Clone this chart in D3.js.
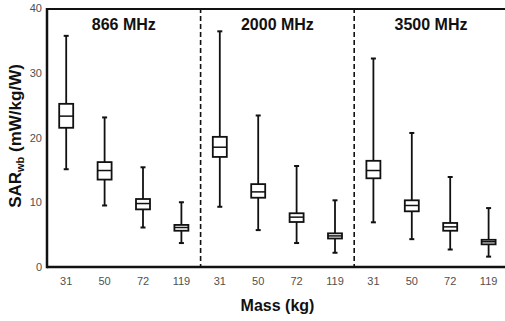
<!DOCTYPE html>
<html>
<head>
<meta charset="utf-8">
<script src="https://cdn.jsdelivr.net/npm/d3@7"></script>
<style>
  html, body { margin: 0; padding: 0; background: #fff; }
  svg { display: block; font-family: "Liberation Sans", Arial, sans-serif; }
</style>
</head>
<body>
<svg id="chart" width="505" height="321"></svg>
<script>
// ---- data ----
const frequencies = ["866 MHz", "2000 MHz", "3500 MHz"];
const masses = ["31", "50", "72", "119"];
// per box, ordered 866 (31,50,72,119), 2000 (...), 3500 (...)
const whiskerHigh = [35.7, 23.1, 15.4, 10.0,  36.4, 23.4, 15.6, 10.3,  32.2, 20.7, 13.9, 9.1];
const q3          = [25.2, 16.2, 10.5, 6.5,   20.1, 12.8, 8.3, 5.2,    16.4, 10.3, 6.8, 4.2];
const medians     = [23.3, 14.9, 9.8, 6.1,    18.5, 11.6, 7.7, 4.8,    14.9, 9.5, 6.2, 3.9];
const q1          = [21.5, 13.5, 8.9, 5.6,    17.0, 10.7, 6.95, 4.4,   13.7, 8.6, 5.6, 3.5];
const whiskerLow  = [15.1, 9.5, 6.1, 3.7,     9.3, 5.7, 3.7, 2.2,      6.9, 4.3, 2.7, 1.6];
const yTicks = [0, 10, 20, 30, 40];

// ---- layout ----
const svg = d3.select("#chart");
const plotLeft = 47, plotRight = 507.8, plotTop = 8, plotBottom = 267;

const keys = [];
frequencies.forEach(f => masses.forEach(m => keys.push({ key: f + "|" + m, freq: f, mass: m, i: keys.length })));

const x = d3.scaleBand().domain(keys.map(k => k.key)).range([plotLeft, plotRight]).padding(0);
const y = d3.scaleLinear().domain([0, 40]).range([plotBottom, plotTop]);
const bw = x.bandwidth();
const cx = k => x(k) + bw / 2;

// panel separators (dashed)
frequencies.slice(1).forEach(f => {
  const xv = x(f + "|" + masses[0]);
  svg.append("line")
    .attr("x1", xv).attr("x2", xv)
    .attr("y1", y(40)).attr("y2", y(0))
    .attr("stroke", "#111").attr("stroke-width", 1.6)
    .attr("stroke-dasharray", "5,3");
});

// panel titles
frequencies.forEach(f => {
  const x0 = x(f + "|" + masses[0]);
  const x1 = x(f + "|" + masses[masses.length - 1]) + bw;
  svg.append("text")
    .attr("x", (x0 + x1) / 2).attr("y", 29.5)
    .attr("text-anchor", "middle")
    .attr("font-size", 16).attr("font-weight", "bold")
    .attr("fill", "#111")
    .text(f);
});

// boxes
const g = svg.append("g");
keys.forEach(k => {
  const c = cx(k.key);
  const i = k.i;
  const boxW = 16, capW = 5;
  const gg = g.append("g").attr("stroke", "#111").attr("stroke-width", 1.8).attr("fill", "none");
  gg.append("line").attr("x1", c).attr("x2", c).attr("y1", y(whiskerHigh[i])).attr("y2", y(q3[i]));
  gg.append("line").attr("x1", c).attr("x2", c).attr("y1", y(q1[i])).attr("y2", y(whiskerLow[i]));
  gg.append("line").attr("x1", c - capW / 2).attr("x2", c + capW / 2).attr("y1", y(whiskerHigh[i])).attr("y2", y(whiskerHigh[i])).attr("stroke-width", 2);
  gg.append("line").attr("x1", c - capW / 2).attr("x2", c + capW / 2).attr("y1", y(whiskerLow[i])).attr("y2", y(whiskerLow[i])).attr("stroke-width", 2);
  gg.append("rect")
    .attr("x", c - boxW / 2 + 1).attr("width", boxW - 2)
    .attr("y", y(q3[i])).attr("height", y(q1[i]) - y(q3[i]))
    .attr("fill", "#fff");
  gg.append("line").attr("x1", c - boxW / 2 + 1).attr("x2", c + boxW / 2 - 1).attr("y1", y(medians[i])).attr("y2", y(medians[i])).attr("stroke-width", 1.5);
});

// frame lines
svg.append("line").attr("x1", plotLeft).attr("x2", 505).attr("y1", plotTop + 1).attr("y2", plotTop + 1)
  .attr("stroke", "#111").attr("stroke-width", 2);
svg.append("line").attr("x1", plotLeft).attr("x2", 505).attr("y1", plotBottom).attr("y2", plotBottom)
  .attr("stroke", "#111").attr("stroke-width", 2.5);
svg.append("line").attr("x1", plotLeft).attr("x2", plotLeft).attr("y1", plotTop).attr("y2", plotBottom + 1.2)
  .attr("stroke", "#111").attr("stroke-width", 2.5);

// y axis tick labels
const yAxis = svg.append("g").attr("transform", `translate(${plotLeft},0)`)
  .call(d3.axisLeft(y).tickValues(yTicks).tickSize(0).tickPadding(5).tickFormat(d3.format("d")));
yAxis.select(".domain").remove();
yAxis.selectAll("text").attr("font-size", 11).attr("fill", "#505050").attr("font-family", "Liberation Sans, Arial, sans-serif");

// x axis tick labels
const xAxis = svg.append("g").attr("transform", `translate(0,${plotBottom})`)
  .call(d3.axisBottom(x).tickSize(0).tickPadding(10).tickFormat(d => d.split("|")[1]));
xAxis.select(".domain").remove();
xAxis.selectAll("text").attr("font-size", 11).attr("fill", "#505050").attr("font-family", "Liberation Sans, Arial, sans-serif");

// axis titles
svg.append("text")
  .attr("x", 277.5).attr("y", 311)
  .attr("text-anchor", "middle")
  .attr("font-size", 16).attr("font-weight", "bold").attr("fill", "#111")
  .text("Mass (kg)");

const yl = svg.append("text")
  .attr("transform", "translate(21,136) rotate(-90)")
  .attr("text-anchor", "middle")
  .attr("font-size", 17).attr("font-weight", "bold").attr("fill", "#111");
yl.append("tspan").text("SAR");
yl.append("tspan").attr("font-size", 11).attr("dy", 3).text("wb");
yl.append("tspan").attr("dy", -3).text(" (mW/kg/W)");
</script>
</body>
</html>
